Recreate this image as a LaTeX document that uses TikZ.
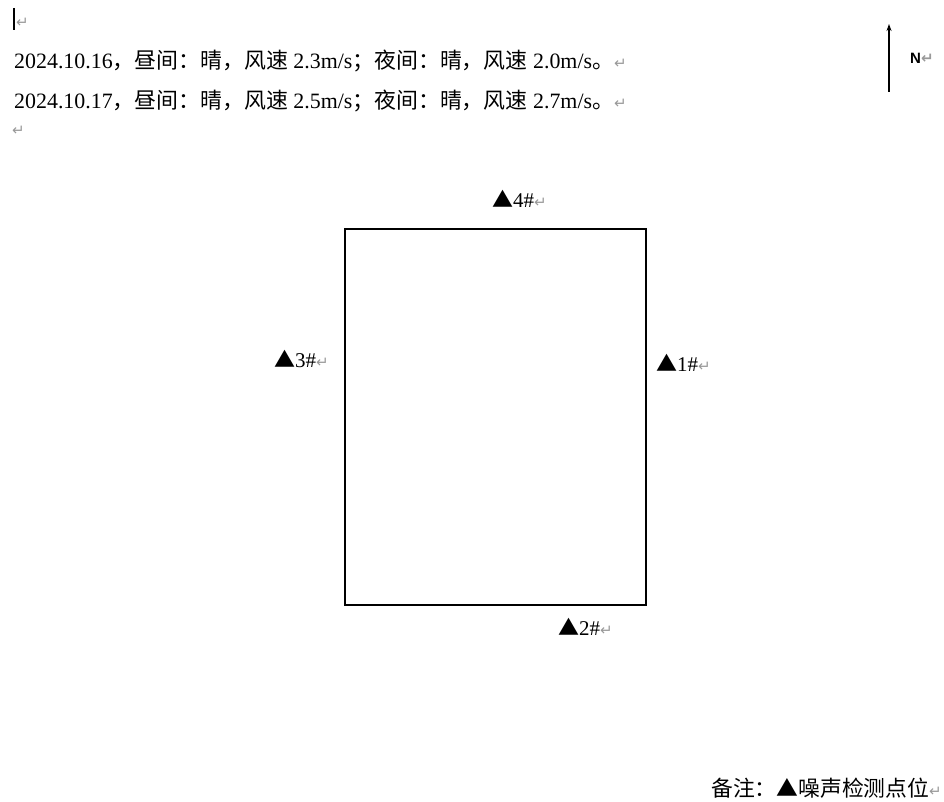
\documentclass[tikz,border=0pt]{standalone}
\usepackage{fontspec}
\setmainfont{Liberation Serif}
\newfontfamily\cjk{Noto Sans CJK SC}
\newfontfamily\dejavu{DejaVu Sans}
\newfontfamily\arialb{Liberation Sans}[BoldFont={Liberation Sans Bold}]
\usetikzlibrary{arrows.meta,positioning}
\newcommand{\parmk}{{\color{black!40}\dejavu\fontsize{15}{15}\selectfont ↵}}
\newcommand{\noisept}[1]{{\cjk ▲}#1\parmk}

\begin{document}
\begin{tikzpicture}[x=1pt,y=-1pt,
    txt/.style={anchor=base west, inner sep=0pt, font=\fontsize{21.9}{26}\selectfont},
    ptlabel/.style={anchor=base west, inner sep=0pt, font=\fontsize{21}{25}\selectfont}]
  \useasboundingbox (0,0) rectangle (944,802);

  % cursor and empty paragraphs
  \draw[line width=2.5pt] (14,8) coordinate (c0) -- (14,30) coordinate (c1);
  \node[txt] (p0) at (16,28) {\parmk};
  \node[txt] (w1) at (14,69) {2024.10.16{\cjk ，昼间：晴，风速} 2.3m/s{\cjk ；夜间：晴，风速} 2.0m/s{\cjk 。}\parmk};
  \node[txt] (w2) at (14,109) {2024.10.17{\cjk ，昼间：晴，风速} 2.5m/s{\cjk ；夜间：晴，风速} 2.7m/s{\cjk 。}\parmk};
  \node[txt] (p3) at (12,136) {\parmk};

  % north arrow
  \coordinate (nb) at (889,92);
  \coordinate (nt) at (889,24);
  \draw[line width=1.2pt,-{Stealth[length=7pt,width=5pt]}] (nb) -- (nt);
  \node[anchor=base west, inner sep=0pt, font=\arialb\bfseries\fontsize{15}{18}\selectfont] (north) at (910,64) {N\parmk};

  % site boundary
  \node[draw, line width=1.7pt, minimum width=301pt, minimum height=376pt,
        inner sep=0pt, anchor=north west] (site) at (344,228) {};

  % noise points
  \node[ptlabel] (n1) at (656,371) {\noisept{1\#}};
  \node[ptlabel] (n2) at (558,635) {\noisept{2\#}};
  \node[ptlabel] (n3) at (274,367) {\noisept{3\#}};
  \node[ptlabel] (n4) at (492,208) {\noisept{4\#}};

  % remark
  \node[anchor=base west, inner sep=0pt, font=\cjk\fontsize{21.8}{26}\selectfont] (note) at (711,796) {备注：▲噪声检测点位\parmk};
\end{tikzpicture}
\end{document}
